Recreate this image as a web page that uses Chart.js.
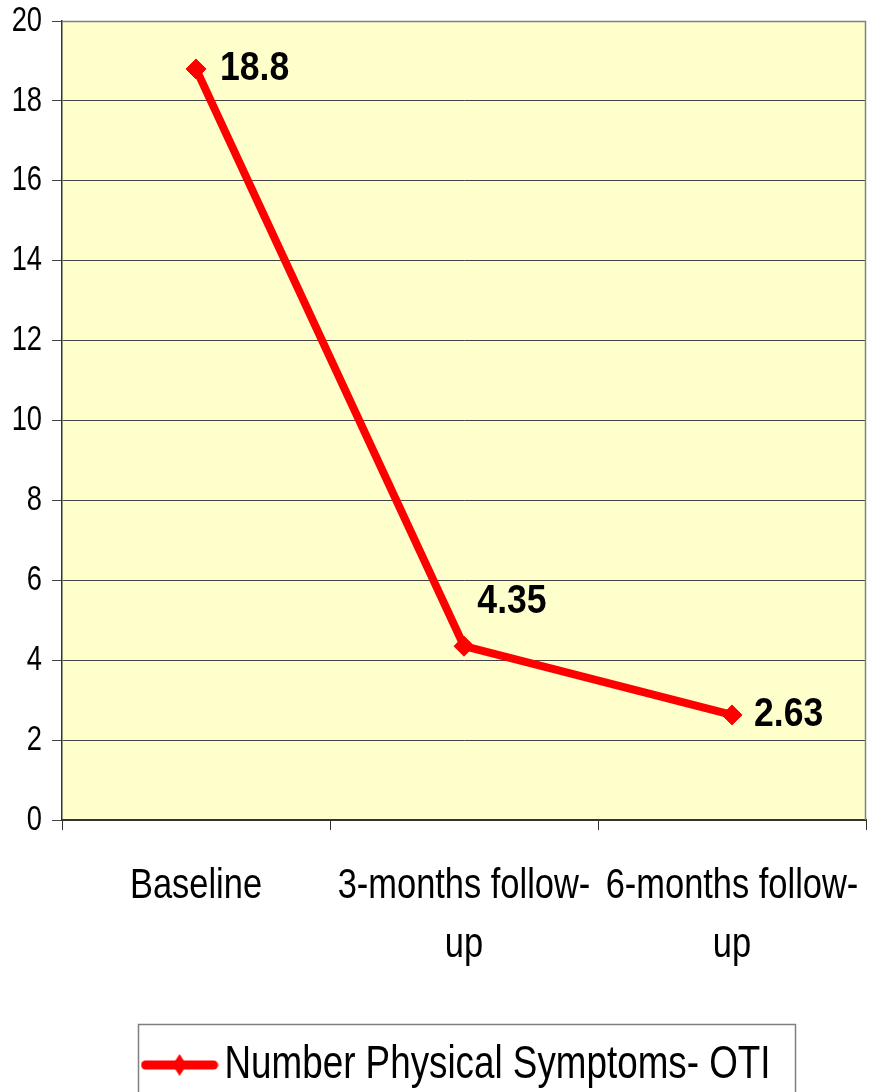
<!DOCTYPE html>
<html>
<head>
<meta charset="utf-8">
<script src="https://cdn.jsdelivr.net/npm/chart.js@4.4.1/dist/chart.umd.min.js"></script>
<style>
  html, body { margin: 0; padding: 0; background: #ffffff; }
  #wrap { width: 869px; height: 1092px; }
</style>
</head>
<body>
<div id="wrap"><canvas id="c" width="869" height="1092"></canvas></div>
<script>
const categories = [["Baseline"], ["3-months follow-", "up"], ["6-months follow-", "up"]];
const seriesName = "Number Physical Symptoms- OTI";
const seriesValues = [18.8, 4.35, 2.63];
const valueLabels = ["18.8", "4.35", "2.63"];
const yTicks = [0, 2, 4, 6, 8, 10, 12, 14, 16, 18, 20];

const FONT = "'Liberation Sans', Arial, sans-serif";
const RED = '#FF0000';

const canvas = document.getElementById('c');
const ctx2d = canvas.getContext('2d');

// The reference uses a condensed face; emulate it by compressing text horizontally.
const protoFill = CanvasRenderingContext2D.prototype.fillText;
const protoMeasure = CanvasRenderingContext2D.prototype.measureText;
function squeezeFor(font) {
  const m = /(\d+(?:\.\d+)?)px/.exec(font);
  const s = m ? +m[1] : 12;
  if (/bold/.test(font)) return 0.89;
  if (s >= 45) return 0.80;
  if (s >= 40) return 0.82;
  return 0.78;
}
ctx2d.measureText = function (t) {
  const m = protoMeasure.call(this, t);
  const k = squeezeFor(this.font);
  return {
    width: m.width * k,
    actualBoundingBoxAscent: m.actualBoundingBoxAscent,
    actualBoundingBoxDescent: m.actualBoundingBoxDescent,
    actualBoundingBoxLeft: m.actualBoundingBoxLeft * k,
    actualBoundingBoxRight: m.actualBoundingBoxRight * k,
    fontBoundingBoxAscent: m.fontBoundingBoxAscent,
    fontBoundingBoxDescent: m.fontBoundingBoxDescent
  };
};
ctx2d.fillText = function (t, x, y, mw) {
  const w = protoMeasure.call(this, t).width * squeezeFor(this.font);
  const lim = (mw !== undefined && mw !== null) ? Math.min(mw, w) : w;
  protoFill.call(this, t, x, y, Math.max(lim, 0.01));
};

// legend marker: thick line with diamond
const marker = document.createElement('canvas');
marker.width = 78; marker.height = 26;
(function () {
  const g = marker.getContext('2d');
  g.strokeStyle = RED; g.lineWidth = 9; g.lineCap = 'round';
  g.beginPath(); g.moveTo(5, 13); g.lineTo(73, 13); g.stroke();
  g.fillStyle = RED;
  g.beginPath(); g.moveTo(39, 2); g.lineTo(46, 13); g.lineTo(39, 24); g.lineTo(32, 13); g.closePath(); g.fill();
})();

const plotBg = {
  id: 'plotBg',
  beforeDraw(chart) {
    const a = chart.chartArea, ctx = chart.ctx;
    ctx.save();
    ctx.fillStyle = '#FFFFCC';
    ctx.fillRect(a.left, a.top, a.right - a.left, a.bottom - a.top);
    ctx.restore();
  },
  afterDatasetsDraw(chart) {
    const a = chart.chartArea, ctx = chart.ctx;
    ctx.save();
    ctx.strokeStyle = '#808080'; ctx.lineWidth = 1.5;
    ctx.beginPath();
    ctx.moveTo(a.left, a.top + 0.5); ctx.lineTo(a.right - 0.5, a.top + 0.5); ctx.lineTo(a.right - 0.5, a.bottom);
    ctx.stroke();
    ctx.restore();
  }
};

// data labels: offsets are styling only
const labelOffsets = [{dx: 24, dy: 0, align: 'left'}, {dx: 48, dy: -44, align: 'center'}, {dx: 22, dy: 0, align: 'left'}];
const dataLabels = {
  id: 'dataLabels',
  afterDatasetsDraw(chart) {
    const ctx = chart.ctx;
    const meta = chart.getDatasetMeta(0);
    ctx.save();
    ctx.font = "bold 40px " + FONT;
    ctx.fillStyle = '#000000';
    ctx.textBaseline = 'middle';
    meta.data.forEach((pt, i) => {
      const o = labelOffsets[i];
      ctx.textAlign = o.align;
      ctx.fillText(valueLabels[i], pt.x + o.dx, pt.y + o.dy);
    });
    ctx.restore();
  }
};

const legendBox = {
  id: 'legendBox',
  afterDraw(chart) {
    const lg = chart.legend;
    if (!lg || !lg.legendHitBoxes || !lg.legendHitBoxes.length) return;
    const hb = lg.legendHitBoxes[0];
    const ctx = chart.ctx;
    const left = hb.left - 20, right = hb.left + hb.width + 24;
    const top = hb.top + hb.height / 2 - 41;
    ctx.save();
    ctx.strokeStyle = '#808080'; ctx.lineWidth = 1.5;
    ctx.strokeRect(Math.round(left) + 0.5, Math.round(top) + 0.5, Math.round(right - left), 200);
    ctx.restore();
  }
};

new Chart(canvas, {
  type: 'line',
  data: {
    labels: categories,
    datasets: [{
      label: seriesName,
      data: seriesValues,
      borderColor: RED,
      backgroundColor: RED,
      borderWidth: 8,
      pointStyle: 'rectRot',
      pointRadius: 10,
      pointHoverRadius: 10,
      pointBackgroundColor: RED,
      pointBorderColor: RED,
      pointBorderWidth: 1,
      tension: 0,
      fill: false
    }]
  },
  options: {
    responsive: false,
    animation: false,
    layout: { autoPadding: false, padding: { top: 21, right: 3, left: 0, bottom: -6 } },
    plugins: {
      tooltip: { enabled: false },
      legend: {
        position: 'bottom',
        fullSize: false,
        labels: {
          usePointStyle: true,
          pointStyle: marker,
          pointStyleWidth: 44,
          padding: 10,
          color: '#000000',
          font: { family: FONT, size: 46 }
        }
      }
    },
    scales: {
      x: {
        type: 'category',
        offset: true,
        grid: { offset: true, drawOnChartArea: false, drawTicks: true, tickLength: 10, color: '#333333', lineWidth: 1 },
        border: { display: true, color: '#333333', width: 2 },
        ticks: {
          color: '#000000', padding: 27, maxRotation: 0, minRotation: 0, autoSkip: false,
          font: { family: FONT, size: 42, lineHeight: 1.4 }
        },
        afterFit(scale) { scale.height = 212; scale.paddingLeft = 0; scale.paddingRight = 0; }
      },
      y: {
        min: 0, max: 20,
        afterBuildTicks(scale) { scale.ticks = yTicks.map(v => ({ value: v })); },
        grid: { color: '#444444', lineWidth: 1, tickLength: 10, drawTicks: true },
        border: { display: true, color: '#333333', width: 1.5 },
        ticks: {
          color: '#000000', padding: 10,
          font: { family: FONT, size: 35, lineHeight: 1.2 }
        },
        afterFit(scale) { scale.width = 62; scale.paddingTop = 0; scale.paddingBottom = 0; }
      }
    }
  },
  plugins: [plotBg, dataLabels, legendBox]
});
</script>
</body>
</html>
